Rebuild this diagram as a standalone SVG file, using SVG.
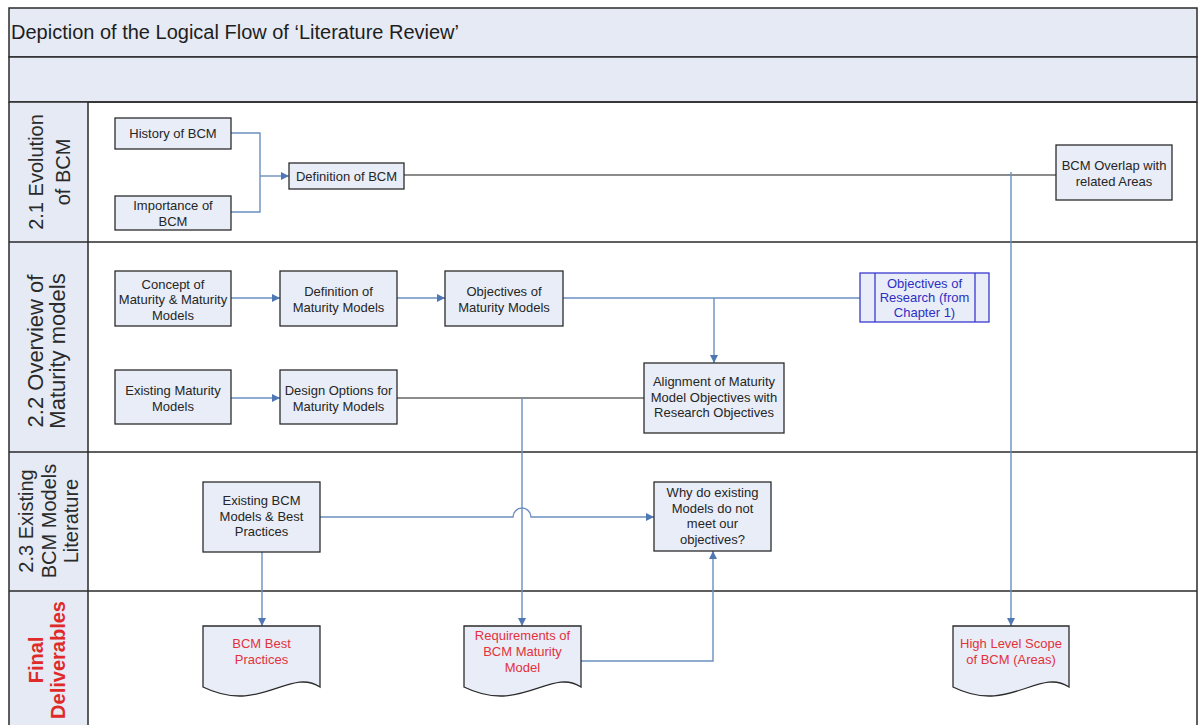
<svg xmlns="http://www.w3.org/2000/svg" width="1203" height="725" viewBox="0 0 1203 725">
  <style>
    text { font-family: "Liberation Sans", Arial, sans-serif; }
    .box { fill: #e8edf7; stroke: #2b2b2b; stroke-width: 1.3; }
    .doc { fill: #e8edf7; stroke: #2b2b2b; stroke-width: 1.3; }
    .t { font-size: 13px; fill: #262626; text-anchor: middle; }
    .tr { font-size: 13px; fill: #e3323c; text-anchor: middle; }
    .tb { font-size: 13px; fill: #2f2fc4; text-anchor: middle; }
    .lane { font-size: 20px; fill: #2a2a2a; text-anchor: middle; }
    .band { fill: #e5eaf4; stroke: #2b2b2b; stroke-width: 1.5; }
    .sep { stroke: #2b2b2b; stroke-width: 1.5; fill: none; }
    .flow { stroke: #6a8fc0; stroke-width: 1.4; fill: none; }
    .flow-a { stroke: #6a8fc0; stroke-width: 1.4; fill: none; marker-end: url(#arr); }
    .dark { stroke: #1a1a1a; stroke-width: 1.2; fill: none; }
  </style>
  <defs>
    <marker id="arr" viewBox="0 0 10 10" refX="10" refY="5" markerWidth="8" markerHeight="8" markerUnits="userSpaceOnUse" orient="auto">
      <path d="M0,0 L10,5 L0,10 z" fill="#4f78b3"/>
    </marker>
  </defs>

  <rect width="1203" height="725" fill="#ffffff"/>

  <!-- frame, header bands and swimlanes -->
  <g id="frame">
    <rect class="band" x="9" y="8" width="1188" height="49"/>
    <rect class="band" x="9" y="57" width="1188" height="45"/>
    <rect x="9" y="102" width="79" height="630" fill="#e5eaf4"/>
    <path class="sep" d="M9,102 V725 M1197,102 V725 M88,102 V725"/>
    <path class="sep" d="M9,102 H1197 M9,242 H1197 M9,452 H1197 M9,591 H1197"/>
    <text x="11" y="39" font-size="20" fill="#1e1e1e">Depiction of the Logical Flow of ‘Literature Review’</text>
  </g>

  <g id="lane-labels">
    <text class="lane" transform="translate(43,172) rotate(-90)"><tspan x="0" y="0">2.1 Evolution</tspan><tspan x="0" y="27">of BCM</tspan></text>
    <text class="lane" font-size="22" style="font-size:22px" transform="translate(43,351) rotate(-90)"><tspan x="0" y="0">2.2 Overview of</tspan><tspan x="0" y="22">Maturity models</tspan></text>
    <text class="lane" transform="translate(33,521) rotate(-90)"><tspan x="0" y="0">2.3 Existing</tspan><tspan x="0" y="22.5">BCM Models</tspan><tspan x="0" y="45">Literature</tspan></text>
    <text class="lane" style="fill:#e02a2a;font-weight:bold" transform="translate(43,660) rotate(-90)"><tspan x="0" y="0">Final</tspan><tspan x="0" y="22">Deliverables</tspan></text>
  </g>

  <!-- connectors -->
  <g id="connectors">
    <path class="flow" d="M231,133 H260 V212 H231"/>
    <path class="flow-a" d="M260,176 H289"/>
    <path class="dark" d="M404,175 H1056"/>
    <path class="flow-a" d="M1011,172 V626"/>
    <path class="flow-a" d="M231,298 H280"/>
    <path class="flow-a" d="M397,298 H445"/>
    <path class="flow" d="M563,298 H860"/>
    <path class="flow-a" d="M714,298 V363"/>
    <path class="flow-a" d="M231,398 H280"/>
    <path class="dark" d="M397,398 H644"/>
    <path class="flow-a" d="M522,398 V626"/>
    <path class="flow-a" d="M320,517 H513 A9,9 0 0 1 531,517 H654"/>
    <path class="flow-a" d="M262,552 V626"/>
    <path class="flow-a" d="M581,661 H713 V551"/>
  </g>

  <!-- 2.1 Evolution of BCM -->
  <g id="history-of-bcm">
    <rect class="box" x="115" y="118" width="116" height="31"/>
    <text class="t" x="173" y="138">History of BCM</text>
  </g>
  <g id="importance-of-bcm">
    <rect class="box" x="115" y="196" width="116" height="34"/>
    <text class="t" x="173" y="210">Importance of</text>
    <text class="t" x="173" y="225.5">BCM</text>
  </g>
  <g id="definition-of-bcm">
    <rect class="box" x="289" y="163" width="115" height="26"/>
    <text class="t" x="346.5" y="180.5">Definition of BCM</text>
  </g>
  <g id="bcm-overlap">
    <rect class="box" x="1056" y="145" width="116" height="55"/>
    <text class="t" x="1114" y="170">BCM Overlap with</text>
    <text class="t" x="1114" y="185.5">related Areas</text>
  </g>

  <!-- 2.2 Overview of Maturity models -->
  <g id="concept-of-maturity">
    <rect class="box" x="115" y="271" width="116" height="55"/>
    <text class="t" x="173" y="288.5">Concept of</text>
    <text class="t" x="173" y="304">Maturity &amp; Maturity</text>
    <text class="t" x="173" y="319.5">Models</text>
  </g>
  <g id="definition-of-maturity-models">
    <rect class="box" x="280" y="271" width="117" height="55"/>
    <text class="t" x="338.5" y="296">Definition of</text>
    <text class="t" x="338.5" y="311.5">Maturity Models</text>
  </g>
  <g id="objectives-of-maturity-models">
    <rect class="box" x="445" y="271" width="118" height="55"/>
    <text class="t" x="504" y="296">Objectives of</text>
    <text class="t" x="504" y="311.5">Maturity Models</text>
  </g>
  <g id="objectives-of-research">
    <rect x="860" y="273" width="129" height="49" fill="#e8edf7" stroke="#3a3ad0" stroke-width="1.3"/>
    <path d="M875,273 V322 M975,273 V322" stroke="#3a3ad0" stroke-width="1.3"/>
    <text class="tb" x="924.5" y="287.5">Objectives of</text>
    <text class="tb" x="924.5" y="302">Research (from</text>
    <text class="tb" x="924.5" y="316.5">Chapter 1)</text>
  </g>
  <g id="existing-maturity-models">
    <rect class="box" x="115" y="370" width="116" height="54"/>
    <text class="t" x="173" y="395">Existing Maturity</text>
    <text class="t" x="173" y="410.5">Models</text>
  </g>
  <g id="design-options">
    <rect class="box" x="280" y="370" width="117" height="54"/>
    <text class="t" x="338.5" y="395">Design Options for</text>
    <text class="t" x="338.5" y="410.5">Maturity Models</text>
  </g>
  <g id="alignment">
    <rect class="box" x="644" y="363" width="140" height="70"/>
    <text class="t" x="714" y="386">Alignment of Maturity</text>
    <text class="t" x="714" y="401.5">Model Objectives with</text>
    <text class="t" x="714" y="417">Research Objectives</text>
  </g>

  <!-- 2.3 Existing BCM Models Literature -->
  <g id="existing-bcm-models">
    <rect class="box" x="203" y="482" width="117" height="70"/>
    <text class="t" x="261.5" y="505">Existing BCM</text>
    <text class="t" x="261.5" y="520.5">Models &amp; Best</text>
    <text class="t" x="261.5" y="536">Practices</text>
  </g>
  <g id="why-not-meet">
    <rect class="box" x="654" y="482" width="117" height="69"/>
    <text class="t" x="712.5" y="497">Why do existing</text>
    <text class="t" x="712.5" y="512.5">Models do not</text>
    <text class="t" x="712.5" y="528">meet our</text>
    <text class="t" x="712.5" y="543.5">objectives?</text>
  </g>

  <!-- Final Deliverables -->
  <g id="bcm-best-practices">
    <path class="doc" d="M203,626 H320 V687 C290,667 260,715 203,687 Z"/>
    <text class="tr" x="261.5" y="647.5">BCM Best</text>
    <text class="tr" x="261.5" y="663.5">Practices</text>
  </g>
  <g id="requirements-bcm-maturity">
    <path class="doc" d="M464,626 H581 V687 C551,667 521,715 464,687 Z"/>
    <text class="tr" x="522.5" y="639.5">Requirements of</text>
    <text class="tr" x="522.5" y="655.5">BCM Maturity</text>
    <text class="tr" x="522.5" y="671.5">Model</text>
  </g>
  <g id="high-level-scope">
    <path class="doc" d="M953,626 H1069 V687 C1039,667 1009,715 953,687 Z"/>
    <text class="tr" x="1011" y="647.5">High Level Scope</text>
    <text class="tr" x="1011" y="664">of BCM (Areas)</text>
  </g>
</svg>
